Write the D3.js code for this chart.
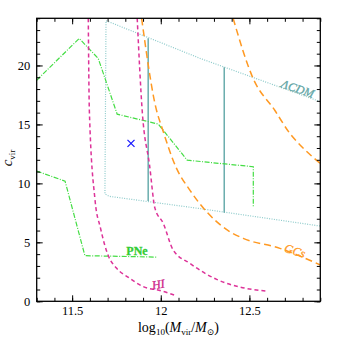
<!DOCTYPE html>
<html>
<head>
<meta charset="utf-8">
<script src="https://cdn.jsdelivr.net/npm/d3@7"></script>
<style>
  body { margin: 0; background: #fff; }
  svg { display: block; font-family: "Liberation Serif", "DejaVu Serif", serif; }
</style>
</head>
<body>
<svg id="chart" width="338" height="338"></svg>
<script>
// axis ticks
const xTicks = [11.5, 12, 12.5];
const yTicks = [0, 5, 10, 15, 20];

// [log10 Mvir, c_vir] pairs
const pneUpper = [[11.30, 18.75], [11.54, 22.29], [11.647, 20.6], [11.754, 15.87], [11.986, 15.03], [12.149, 11.97], [12.522, 11.41], [12.522, 7.97]];
const pneLower = [[11.30, 11.04], [11.46, 10.19], [11.572, 3.87], [11.976, 3.75]];
const hiLeft = [[11.591, 24], [11.597, 16.2], [11.629, 8.6], [11.66, 6.2], [11.704, 3.86], [11.75, 2.82], [11.82, 2.0], [11.90, 1.25], [12.0, 0.9], [12.09, 0.45]];
const hiRight = [[11.867, 24], [11.895, 16.2], [11.937, 11.5], [11.967, 7.9], [12.014, 6.61], [12.07, 4.35], [12.164, 3.22], [12.315, 1.86], [12.446, 1.21], [12.596, 0.87]];
const gcLeft = [[11.892, 24], [11.976, 16.2], [12.005, 14.8], [12.089, 11.27], [12.164, 9.43], [12.267, 7.46], [12.39, 5.9], [12.465, 5.34], [12.672, 4.49], [12.9, 3.08]];
const gcRight = [[12.408, 24], [12.521, 18.9], [12.643, 16.2], [12.728, 14.24], [12.80, 13.04], [12.9, 11.7]];
const lcdmBox = [[12.9, 16.93], [12.222, 20.6], [11.691, 23.8], [11.685, 9.1], [11.71, 8.9], [12.222, 7.86], [12.9, 6.38]];
const lcdmBars = [[11.929, 8.5, 22.3], [12.358, 7.5, 19.85]];
const mwPoint = [11.832, 13.39];

const svg = d3.select("#chart");
const pLeft = 36.7, pRight = 320.3, pTop = 18.3, pBottom = 301.3;

const x = d3.scaleLinear().domain([11.3, 12.9]).range([pLeft, pRight]);
const y = d3.scaleLinear().domain([0, 24]).range([pBottom, pTop]);

const plot = svg.append("g");

const line = d3.line().x(d => x(d[0])).y(d => y(d[1]));
const smooth = d3.line().x(d => x(d[0])).y(d => y(d[1])).curve(d3.curveMonotoneX);

// LCDM region
plot.append("path")
  .attr("d", line(lcdmBox))
  .attr("fill", "none")
  .attr("stroke", "#8ccaca")
  .attr("stroke-width", 1.2)
  .attr("stroke-dasharray", "1,1.4");

plot.selectAll("line.bar")
  .data(lcdmBars)
  .enter()
  .append("line")
  .attr("x1", d => x(d[0]))
  .attr("x2", d => x(d[0]))
  .attr("y1", d => y(d[1]))
  .attr("y2", d => y(d[2]))
  .attr("stroke", "#6aadad")
  .attr("stroke-width", 1.5);

// PNe
[pneUpper, pneLower].forEach(s => {
  plot.append("path")
    .attr("d", line(s))
    .attr("fill", "none")
    .attr("stroke", "#44dd44")
    .attr("stroke-width", 1.2)
    .attr("stroke-dasharray", "5,1.5,1,1.5");
});

// HI
[hiLeft, hiRight].forEach(s => {
  plot.append("path")
    .attr("d", smooth(s))
    .attr("fill", "none")
    .attr("stroke", "#dd3399")
    .attr("stroke-width", 1.5)
    .attr("stroke-dasharray", "4,3");
});

// GCs
[gcLeft, gcRight].forEach(s => {
  plot.append("path")
    .attr("d", smooth(s))
    .attr("fill", "none")
    .attr("stroke", "#ff9922")
    .attr("stroke-width", 1.5)
    .attr("stroke-dasharray", "7,4");
});

// blue cross
const cx = x(mwPoint[0]), cy = y(mwPoint[1]);
plot.append("path")
  .attr("d", `M${cx - 3.5},${cy - 3.5}L${cx + 3.5},${cy + 3.5}M${cx - 3.5},${cy + 3.5}L${cx + 3.5},${cy - 3.5}`)
  .attr("stroke", "#1a1aff")
  .attr("stroke-width", 1.3);

// curve labels
function label(txt, px, py, rot, color, style, weight) {
  svg.append("text")
    .attr("transform", `translate(${x(px)},${y(py)}) rotate(${rot})`)
    .attr("text-anchor", "middle")
    .attr("font-size", 12)
    .attr("font-style", style)
    .attr("font-weight", weight)
    .attr("fill", color)
    .attr("stroke", color)
    .attr("stroke-width", 0.3)
    .text(txt);
}
label("ΛCDM", 12.765, 17.7, 19, "#5fa5a5", "italic", "normal");
label("GCs", 12.75, 3.95, 17, "#ff9922", "italic", "normal");
label("HI", 11.99, 1.1, -10, "#cc2288", "italic", "normal");
label("PNe", 11.866, 3.9, 0, "#33cc33", "normal", "bold");

// axes
const xMinor = d3.range(11.3, 12.901, 0.1).map(v => +v.toFixed(2));
const yMinor = d3.range(0, 24.01, 1);

function drawAxis(axisFn, ticks, size, transform, labels, pad) {
  const g = svg.append("g")
    .attr("transform", transform)
    .call(axisFn.tickValues(ticks).tickSizeInner(size).tickSizeOuter(0)
      .tickPadding(pad)
      .tickFormat(labels ? d3.format("") : ""));
  g.select(".domain").remove();
  g.selectAll("line").attr("stroke", "#000").attr("stroke-width", 1);
  g.selectAll("text").attr("font-size", 12.5).attr("fill", "#000")
    .attr("font-family", "Liberation Serif, serif");
}

drawAxis(d3.axisBottom(x), xMinor, -3.5, `translate(0,${pBottom})`, false, 5);
drawAxis(d3.axisBottom(x), xTicks, -6, `translate(0,${pBottom})`, true, 5);
drawAxis(d3.axisTop(x), xMinor, -3.5, `translate(0,${pTop})`, false, 5);
drawAxis(d3.axisTop(x), xTicks, -6, `translate(0,${pTop})`, false, 5);
drawAxis(d3.axisLeft(y), yMinor, -3.5, `translate(${pLeft},0)`, false, 6.5);
drawAxis(d3.axisLeft(y), yTicks, -6, `translate(${pLeft},0)`, true, 6.5);
drawAxis(d3.axisRight(y), yMinor, -3.5, `translate(${pRight},0)`, false, 5);
drawAxis(d3.axisRight(y), yTicks, -6, `translate(${pRight},0)`, false, 5);

svg.append("rect")
  .attr("x", pLeft).attr("y", pTop)
  .attr("width", pRight - pLeft).attr("height", pBottom - pTop)
  .attr("fill", "none")
  .attr("stroke", "#000")
  .attr("stroke-width", 1.3);

// axis titles
const xl = svg.append("text")
  .attr("x", (pLeft + pRight) / 2)
  .attr("y", 332)
  .attr("text-anchor", "middle")
  .attr("font-size", 14);
xl.append("tspan").text("log");
xl.append("tspan").attr("font-size", 9).attr("dy", 3).text("10");
xl.append("tspan").attr("dy", -3).text("(");
xl.append("tspan").attr("font-style", "italic").text("M");
xl.append("tspan").attr("font-size", 9).attr("dy", 3).text("vir");
xl.append("tspan").attr("dy", -3).text("/");
xl.append("tspan").attr("font-style", "italic").text("M");
xl.append("tspan").attr("font-size", 9).attr("dy", 3).text("⊙");
xl.append("tspan").attr("dy", -3).text(")");

const yl = svg.append("text")
  .attr("transform", "translate(12,158) rotate(-90)")
  .attr("text-anchor", "middle")
  .attr("font-size", 15);
yl.append("tspan").attr("font-style", "italic").text("c");
yl.append("tspan").attr("font-size", 9).attr("dy", 3).text("vir");
</script>
</body>
</html>
